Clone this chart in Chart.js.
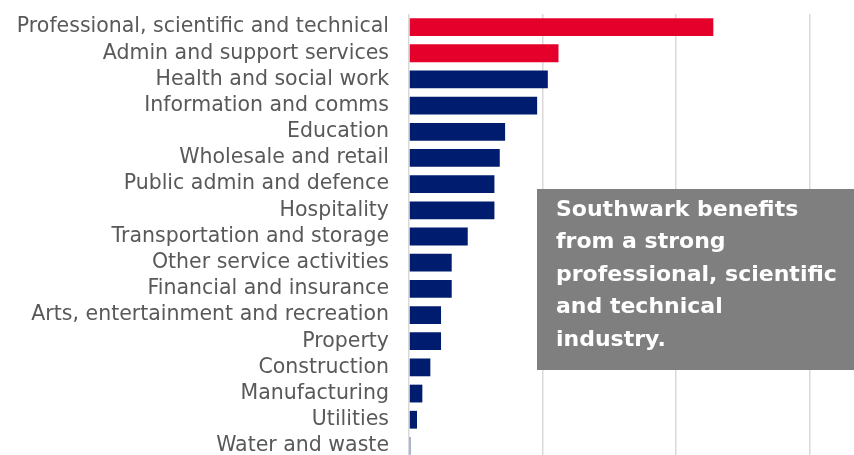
<!DOCTYPE html>
<html>
<head>
<meta charset="utf-8">
<script src="https://cdn.jsdelivr.net/npm/chart.js@4/dist/chart.umd.min.js"></script>
<style>
  html, body { margin: 0; padding: 0; background: #ffffff; overflow: hidden; }
  canvas { display: block; }
</style>
</head>
<body>
<canvas id="chart" width="854" height="459"></canvas>
<script>
// Employment share by industry, Southwark (%)
const industries = [
  "Professional, scientific and technical",
  "Admin and support services",
  "Health and social work",
  "Information and comms",
  "Education",
  "Wholesale and retail",
  "Public admin and defence",
  "Hospitality",
  "Transportation and storage",
  "Other service activities",
  "Financial and insurance",
  "Arts, entertainment and recreation",
  "Property",
  "Construction",
  "Manufacturing",
  "Utilities",
  "Water and waste"
];
const shares = [11.4, 5.6, 5.2, 4.8, 3.6, 3.4, 3.2, 3.2, 2.2, 1.6, 1.6, 1.2, 1.2, 0.8, 0.5, 0.3, 0.05];
const highlighted = [true, true, false, false, false, false, false, false, false, false, false, false, false, false, false, false, false];
const calloutLines = [
  "Southwark benefits",
  "from a strong",
  "professional, scientific",
  "and technical",
  "industry."
];

const RED = "#E4002B";
const NAVY = "#001C6E";

const callout = {
  id: "callout",
  afterDraw(chart) {
    const ctx = chart.ctx;
    ctx.save();
    ctx.fillStyle = "#7F7F7F";
    ctx.fillRect(537, 189, 317, 181);
    ctx.fillStyle = "#FFFFFF";
    ctx.font = "bold 22px 'DejaVu Sans'";
    ctx.textAlign = "left";
    ctx.textBaseline = "alphabetic";
    calloutLines.forEach((line, i) => {
      ctx.fillText(line, 556, 216 + i * 32.4);
    });
    ctx.restore();
  }
};

new Chart(document.getElementById("chart"), {
  type: "bar",
  data: {
    labels: industries,
    datasets: [{
      data: shares,
      backgroundColor: highlighted.map(h => h ? RED : NAVY),
      borderWidth: 0,
      categoryPercentage: 1,
      barPercentage: 0.68
    }]
  },
  options: {
    indexAxis: "y",
    responsive: false,
    animation: false,
    layout: { padding: 0 },
    plugins: { legend: { display: false }, tooltip: { enabled: false } },
    scales: {
      x: {
        min: 0,
        max: 16.67,
        afterBuildTicks(scale) {
          scale.ticks = [0, 5, 10, 15].map(v => ({ value: v }));
        },
        afterFit(scale) { scale.height = 0; },
        ticks: { display: false },
        grid: { color: "#D9D9D9", lineWidth: 1.5, drawTicks: false },
        border: { display: false }
      },
      y: {
        afterFit(scale) {
          scale.width = 409;
          scale.paddingTop = 14;
          scale.paddingBottom = 0;
        },
        grid: { display: false, drawTicks: false },
        border: { display: false },
        ticks: {
          color: "#595959",
          padding: 20,
          autoSkip: false,
          font: { family: "'DejaVu Sans'", size: 20.5 }
        }
      }
    }
  },
  plugins: [callout]
});
</script>
</body>
</html>
